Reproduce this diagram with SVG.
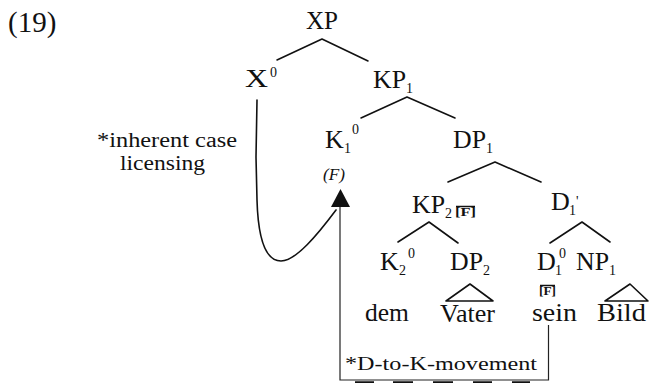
<svg xmlns="http://www.w3.org/2000/svg" width="649" height="383" viewBox="0 0 649 383">
  <defs>
    <style>
      .lbl { font-family: "Liberation Serif", "Times New Roman", serif; font-size: 26px; fill: #111; }
      .sub { font-family: "Liberation Serif", "Times New Roman", serif; font-size: 14px; fill: #111; }
      .note { font-family: "Liberation Serif", "Times New Roman", serif; font-size: 20px; fill: #111; }
      .feat { font-family: "Liberation Serif", "Times New Roman", serif; font-size: 13px; font-weight: bold; fill: #111; }
      .edge { fill: none; stroke: #111; stroke-width: 1.6; stroke-linecap: round; stroke-linejoin: round; }
      .box { fill: none; stroke: #222; stroke-width: 1.2; }
      .mark { stroke: #111; stroke-width: 2.5; }
      .cap { stroke: #111; stroke-width: 1.5; }
    </style>
  </defs>

  <rect width="649" height="383" fill="#fff"/>

  <!-- example number -->
  <text class="lbl" x="8" y="32" style="font-size:29px">(19)</text>

  <!-- tree branches and movement paths -->
  <g id="connectors">
    <polyline class="edge" points="277,60 322,39 368,61"/>
    <polyline class="edge" points="361,118 407,97 455,118"/>
    <polyline class="edge" points="448,182 495,162 541,182"/>
    <polyline class="edge" points="398,242 429,222 458,243"/>
    <polyline class="edge" points="550,243 582,222 610,242"/>
    <polygon class="edge" points="470,284 446,301 493,301"/>
    <polygon class="edge" points="630,284 605,301 648,301"/>
    <!-- inherent case licensing: X0 to K1 -->
    <path class="edge" d="M257,100 L256,157 L257,200 C258,235 264,261 281,261 C296,261 318,234 336,210"/>
    <!-- D-to-K movement: sein to K1 -->
    <polyline class="box" points="548.5,325 548.5,380 340,380 340,204"/>
    <polygon points="340.5,189 331,207 350,207" fill="#111"/>
    <g class="mark">
      <line x1="355" y1="382.5" x2="374" y2="382.5"/>
      <line x1="393" y1="382.5" x2="413" y2="382.5"/>
      <line x1="433" y1="382.5" x2="453" y2="382.5"/>
      <line x1="473" y1="382.5" x2="492" y2="382.5"/>
      <line x1="512" y1="382.5" x2="530" y2="382.5"/>
    </g>
  </g>

  <g id="XP"><text class="lbl" x="306" y="29" textLength="32" lengthAdjust="spacingAndGlyphs">XP</text></g>
  <g id="X0">
    <text class="lbl" x="245" y="87" textLength="23" lengthAdjust="spacingAndGlyphs">X</text>
    <text class="sub" x="270" y="77">0</text>
  </g>
  <g id="KP1">
    <text class="lbl" x="373" y="88" textLength="33" lengthAdjust="spacingAndGlyphs">KP</text>
    <text class="sub" x="406" y="93">1</text>
  </g>
  <g id="K1-0">
    <text class="lbl" x="325" y="148">K</text>
    <text class="sub" x="344" y="153">1</text>
    <text class="sub" x="352" y="134">0</text>
    <text class="feat" x="323" y="180" style="font-size:17px;font-style:italic;font-weight:normal" textLength="22" lengthAdjust="spacingAndGlyphs">(F)</text>
  </g>
  <g id="DP1">
    <text class="lbl" x="453" y="148" textLength="33" lengthAdjust="spacingAndGlyphs">DP</text>
    <text class="sub" x="486" y="153">1</text>
  </g>
  <g id="KP2">
    <text class="lbl" x="412" y="213" textLength="33" lengthAdjust="spacingAndGlyphs">KP</text>
    <text class="sub" x="445" y="218">2</text>
    <text class="feat" x="455" y="216" textLength="21" lengthAdjust="spacingAndGlyphs">[F]</text>
    <line class="cap" x1="456" y1="206.5" x2="475" y2="206.5"/>
  </g>
  <g id="D1-bar">
    <text class="lbl" x="551" y="210">D</text>
    <text class="sub" x="569" y="215">1</text>
    <text class="sub" x="576" y="206">'</text>
  </g>
  <g id="K2-0">
    <text class="lbl" x="380" y="270">K</text>
    <text class="sub" x="399" y="275">2</text>
    <text class="sub" x="408" y="258">0</text>
  </g>
  <g id="DP2">
    <text class="lbl" x="450" y="270" textLength="33" lengthAdjust="spacingAndGlyphs">DP</text>
    <text class="sub" x="483" y="275">2</text>
  </g>
  <g id="D1-0">
    <text class="lbl" x="537" y="270">D</text>
    <text class="sub" x="555" y="275">1</text>
    <text class="sub" x="559" y="258">0</text>
    <text class="feat" x="539" y="295" textLength="17" lengthAdjust="spacingAndGlyphs">[F]</text>
    <line class="cap" x1="540" y1="285.5" x2="555" y2="285.5"/>
  </g>
  <g id="NP1">
    <text class="lbl" x="576" y="270" textLength="33" lengthAdjust="spacingAndGlyphs">NP</text>
    <text class="sub" x="609" y="275">1</text>
  </g>

  <g id="dem"><text class="lbl" x="365" y="321" textLength="44" lengthAdjust="spacingAndGlyphs">dem</text></g>
  <g id="Vater"><text class="lbl" x="440" y="322" textLength="55" lengthAdjust="spacingAndGlyphs">Vater</text></g>
  <g id="sein"><text class="lbl" x="532" y="321" textLength="45" lengthAdjust="spacingAndGlyphs">sein</text></g>
  <g id="Bild"><text class="lbl" x="597" y="321" textLength="49" lengthAdjust="spacingAndGlyphs">Bild</text></g>

  <g id="note-licensing">
    <text class="note" x="97" y="147" textLength="140" lengthAdjust="spacingAndGlyphs">*inherent case</text>
    <text class="note" x="120" y="170" textLength="85" lengthAdjust="spacingAndGlyphs">licensing</text>
  </g>
  <g id="note-movement">
    <text class="note" x="345" y="370" style="font-size:18px" textLength="192" lengthAdjust="spacingAndGlyphs">*D-to-K-movement</text>
  </g>
</svg>
